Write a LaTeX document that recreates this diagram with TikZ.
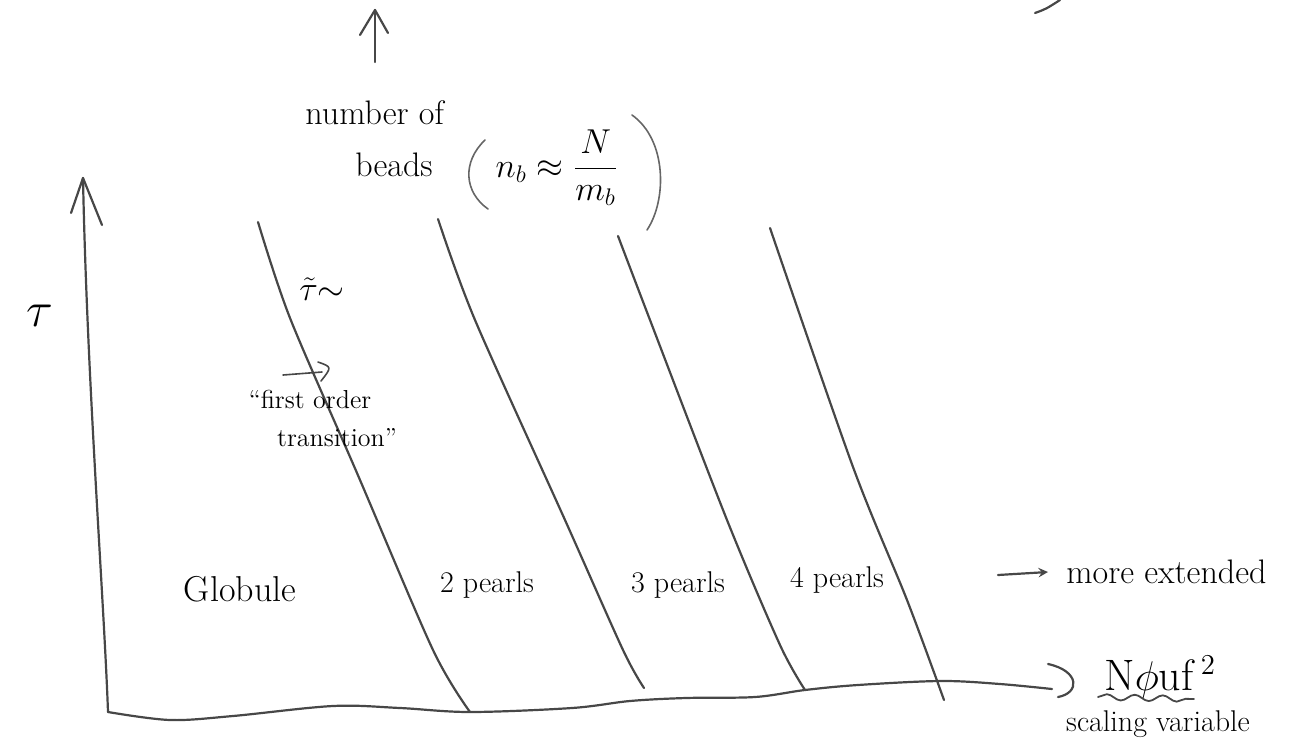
\documentclass[tikz,border=0pt]{standalone}
\usetikzlibrary{decorations.pathmorphing}
\begin{document}
\begin{tikzpicture}[x=0.5pt,y=-0.5pt,
  pen/.style={line width=1.1pt, draw=black!72, line cap=round, line join=round},
  thinpen/.style={line width=0.8pt, draw=black!60, line cap=round},
  lbl/.style={inner sep=0pt, text=black},
  fs/.style={font=\fontsize{#1}{#1}\selectfont}]
\useasboundingbox (0,0) rectangle (1311,739);
% axes
\coordinate (ytip) at (83,178);
\coordinate (corner) at (108,712);
\coordinate (xend) at (1052,689);
\draw[pen] (ytip) .. controls (87,380) and (104,600) .. (corner);
\draw[pen] (71,213) -- (ytip) -- (102,225);
\draw[pen] plot[smooth, tension=0.55] coordinates {(108,712) (170,720) (233,716) (333,706) (400,708) (470,712) (572,708) (630,701) (686,698) (755,697) (805,690) (858,685) (941,681) (1000,684) (1052,689)};
\draw[pen] (1048,664) .. controls (1080,671) and (1080,693) .. (1058,697);
% phase boundaries
\draw[pen] plot[smooth, tension=0.5] coordinates {(258,222) (290,318) (357,473) (433,650) (470,712)};
\draw[pen] plot[smooth, tension=0.5] coordinates {(438,219) (475,320) (565,520) (623,650) (644,688)};
\draw[pen] plot[smooth, tension=0.5] coordinates {(618,236) (650,320) (727,520) (780,645) (805,690)};
\draw[pen] plot[smooth, tension=0.5] coordinates {(770,228) (853,467) (907,600) (944,700)};
% top arrow
\coordinate (atop) at (375,10);
\draw[pen] (375,62) -- (atop);
\draw[pen] (360,35) -- (atop) -- (388,33);
% top right stroke
\draw[pen] (1035,13) .. controls (1046,9) .. (1060,0);
% labels
\node[lbl, fs=30] (tau) at (40,316) {$\tau$};
\node[lbl, fs=17, anchor=base west] (num) at (305,124) {number of};
\node[lbl, fs=17, anchor=base west] (beads) at (355,176) {beads};
\node[lbl, fs=17] (form) at (557,168) {$n_b \approx \displaystyle\frac{N}{m_b}$};
\draw[thinpen] (485,140) .. controls (462,162) and (464,192) .. (488,209);
\draw[thinpen] (632,115) .. controls (667,140) and (667,200) .. (647,230);
\node[lbl, fs=17] (taut) at (322,289) {$\tilde{\tau}{\sim}$};
\draw[pen, line width=0.8pt] (283,375) -- (322,372);
\draw[pen, line width=0.8pt] (318,362) .. controls (332,367) .. (321,381);
\node[lbl, fs=13] (fo1) at (310,399) {``first order};
\node[lbl, fs=13] (fo2) at (337,438) {transition''};
\node[lbl, fs=18] (glob) at (240,589) {Globule};
\node[lbl, fs=15] (p2) at (487,585) {2 pearls};
\node[lbl, fs=15] (p3) at (678,585) {3 pearls};
\node[lbl, fs=15] (p4) at (837,580) {4 pearls};
\coordinate (ma) at (998,575);
\coordinate (mb) at (1048,572);
\draw[pen, ->, >=stealth] (ma) -- (mb);
\node[lbl, fs=17, anchor=base west] (more) at (1066,583) {more extended};
\node[lbl, fs=22, anchor=base west] (sv) at (1104,690) {N$\phi$uf\,$^{2}$};
\draw[pen, line width=0.9pt, decorate, decoration={snake, amplitude=1.5pt, segment length=14pt}] (1098,697) -- (1194,699);
\node[lbl, fs=15] (scal) at (1158,724) {scaling variable};
\end{tikzpicture}
\end{document}
